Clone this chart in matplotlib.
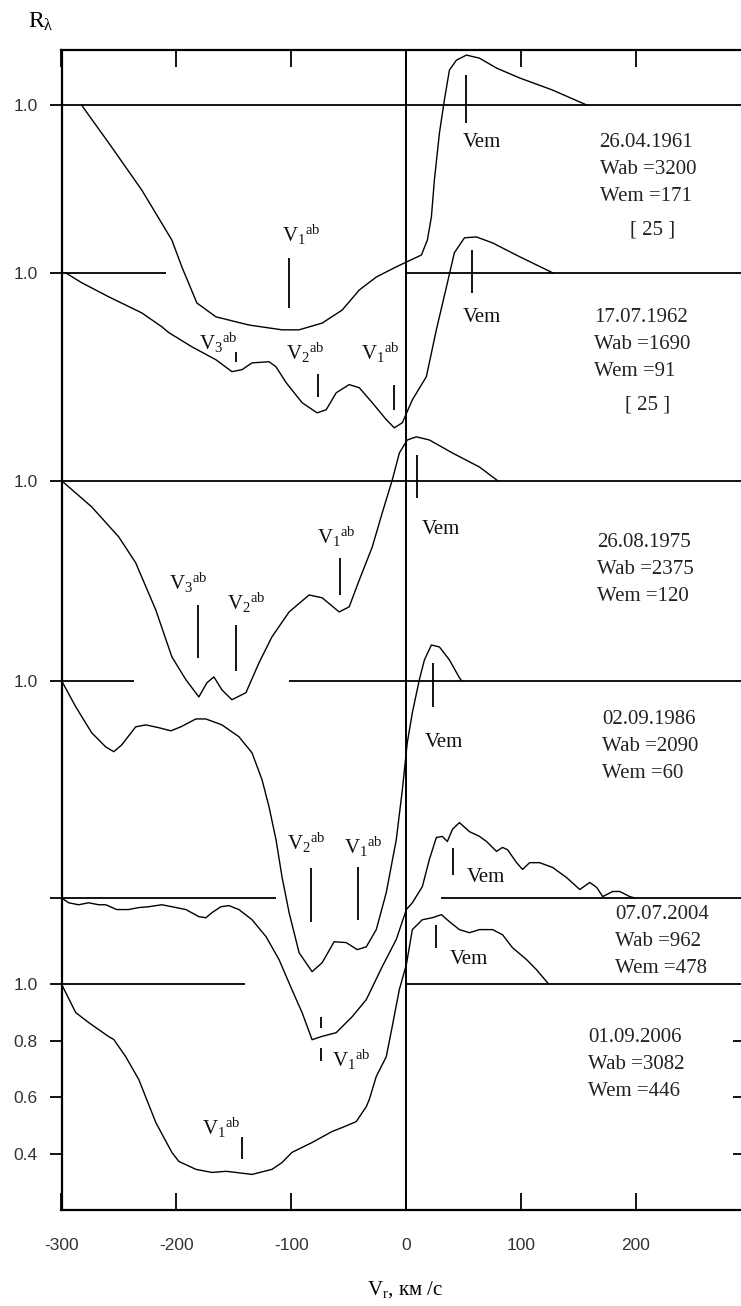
import matplotlib
matplotlib.use("Agg")
import matplotlib.pyplot as plt

plt.rcParams["font.family"] = ["Liberation Serif", "DejaVu Serif"]
plt.rcParams["mathtext.fontset"] = "custom"
plt.rcParams["mathtext.rm"] = "Liberation Serif"
plt.rcParams["mathtext.it"] = "Liberation Serif:italic"
plt.rcParams["axes.unicode_minus"] = False

# --- profiles: radial velocity (km/s) and R_lambda ---
v_1961 = [-282.5, -276.4, -258.9, -230.1, -203.9, -195.2, -182.1, -165.5, -136.7, -107.9,
          -93.1, -73.0, -55.6, -40.7, -25.9, -8.5, 0.3, 13.4, 18.6, 22.1, 24.7, 29.1,
          33.4, 37.8, 43.9, 52.6, 64.0, 78.8, 98.9, 127.7, 157.4]
r_1961 = [1.0, 0.965, 0.866, 0.699, 0.522, 0.427, 0.299, 0.250, 0.221, 0.204,
          0.204, 0.228, 0.274, 0.345, 0.391, 0.427, 0.444, 0.469, 0.522, 0.604, 0.735, 0.901,
          1.018, 1.124, 1.159, 1.177, 1.166, 1.131, 1.096, 1.053, 1.0]

v_1962 = [-296.4, -282.5, -258.9, -230.1, -212.7, -206.5, -186.5, -165.5, -151.6, -142.8,
          -134.1, -119.3, -113.2, -104.4, -90.5, -77.4, -69.5, -60.8, -49.5, -40.7, -29.4,
          -17.2, -10.2, -3.2, 5.5, 17.7, 26.4, 35.2, 42.1, 50.9, 61.3, 75.3, 98.9, 127.7]
r_1962 = [1.0, 0.965, 0.915, 0.858, 0.809, 0.788, 0.738, 0.692, 0.650, 0.657,
          0.681, 0.685, 0.667, 0.611, 0.540, 0.504, 0.515, 0.575, 0.604, 0.593, 0.540,
          0.480, 0.451, 0.469, 0.550, 0.632, 0.798, 0.950, 1.071, 1.124, 1.127, 1.106, 1.057, 1.0]

v_1975 = [-300.0, -273.7, -250.2, -235.4, -217.9, -203.9, -191.7, -180.4, -173.4, -167.3,
          -160.3, -151.6, -139.4, -128.0, -116.7, -101.8, -84.4, -73.0, -58.2, -49.5, -40.7,
          -29.4, -20.7, -12.0, -5.8, 1.1, 9.0, 20.3, 40.4, 64.0, 79.7]
r_1975 = [1.0, 0.907, 0.801, 0.709, 0.542, 0.376, 0.295, 0.234, 0.284, 0.305,
          0.259, 0.224, 0.249, 0.355, 0.447, 0.535, 0.595, 0.585, 0.535, 0.553, 0.648,
          0.765, 0.886, 1.002, 1.098, 1.144, 1.155, 1.144, 1.098, 1.048, 1.0]

v_1986 = [-300.0, -287.6, -273.7, -261.5, -254.5, -247.6, -235.4, -226.6, -215.3, -204.8,
          -196.1, -183.0, -174.3, -160.3, -145.5, -134.1, -125.4, -119.3, -113.2, -108.0,
          -101.8, -93.1, -81.8, -73.0, -62.6, -52.1, -42.5, -34.6, -25.9, -17.2, -8.5, -3.2,
          1.1, 5.5, 11.6, 16.0, 22.1, 29.1, 37.8, 46.5, 48.3]
r_1986 = [1.0, 0.907, 0.815, 0.765, 0.748, 0.772, 0.836, 0.843, 0.833, 0.822,
          0.836, 0.864, 0.864, 0.843, 0.801, 0.744, 0.649, 0.553, 0.436, 0.305,
          0.178, 0.036, -0.031, 0.001, 0.075, 0.072, 0.047, 0.057, 0.118, 0.249, 0.436, 0.613,
          0.780, 0.886, 1.003, 1.073, 1.126, 1.119, 1.073, 1.010, 1.0]

v_2004 = [-300.0, -293.8, -285.1, -276.4, -267.6, -261.5, -251.9, -241.5, -232.7, -224.0,
          -212.7, -203.9, -191.7, -180.4, -174.3, -169.0, -161.2, -154.2, -145.5, -134.1,
          -121.9, -110.6, -99.3, -90.5, -81.8, -73.9, -60.8, -46.8, -34.6, -20.7, -8.5, 0.3,
          5.5, 14.2, 20.3, 26.4, 31.7, 36.0, 40.4, 46.5, 55.2, 64.0, 70.1, 78.8, 84.0, 88.4,
          96.3, 101.5, 107.6, 116.3, 127.7, 139.9, 151.3, 160.0, 166.1, 171.3, 180.0, 186.1,
          194.8, 199.2]
r_2004 = [1.0, 0.983, 0.976, 0.983, 0.976, 0.976, 0.959, 0.959, 0.966, 0.969,
          0.976, 0.969, 0.959, 0.934, 0.930, 0.948, 0.969, 0.973, 0.959, 0.923,
          0.863, 0.782, 0.675, 0.594, 0.498, 0.509, 0.523, 0.580, 0.640, 0.757, 0.853, 0.959,
          0.983, 1.040, 1.136, 1.214, 1.218, 1.200, 1.243, 1.267, 1.235, 1.218, 1.200, 1.165,
          1.179, 1.171, 1.125, 1.101, 1.125, 1.125, 1.108, 1.072, 1.030, 1.055, 1.037, 1.005,
          1.023, 1.023, 1.005, 1.0]

v_2006 = [-300.0, -287.6, -276.4, -258.9, -254.5, -244.1, -232.7, -217.9, -203.9, -197.8,
          -183.0, -169.0, -156.8, -148.1, -134.1, -116.7, -108.0, -99.3, -81.8, -64.4, -55.6,
          -43.4, -34.6, -32.0, -25.9, -17.2, -12.0, -5.8, 0.3, 5.5, 14.2, 22.9, 30.8, 37.8,
          46.5, 55.2, 64.0, 75.3, 84.0, 92.7, 104.9, 113.6, 123.2, 124.3]
r_2006 = [1.0, 0.899, 0.864, 0.814, 0.804, 0.743, 0.662, 0.510, 0.404, 0.372,
          0.344, 0.333, 0.337, 0.333, 0.326, 0.344, 0.368, 0.404, 0.439, 0.478, 0.492,
          0.513, 0.566, 0.591, 0.673, 0.743, 0.850, 0.981, 1.069, 1.193, 1.228, 1.235, 1.246,
          1.221, 1.193, 1.182, 1.193, 1.193, 1.175, 1.129, 1.087, 1.051, 1.005, 1.0]

dates = ["26.04.1961", "17.07.1962", "26.08.1975", "02.09.1986", "07.07.2004", "01.09.2006"]
w_ab = [3200, 1690, 2375, 2090, 962, 3082]
w_em = [171, 91, 120, 60, 478, 446]
refs = ["[ 25 ]", "[ 25 ]", "", "", "", ""]

# velocity markers: (velocity, lower R, upper R)
marks_1961 = [(-101.8, 0.281, 0.458), (52.4, 0.936, 1.106)]
marks_1962 = [(-148.3, 0.685, 0.720), (-76.3, 0.561, 0.642), (-10.8, 0.515, 0.604), (57.6, 0.929, 1.081)]
marks_1975 = [(-181.0, 0.373, 0.561), (-148.3, 0.327, 0.490), (-57.6, 0.596, 0.727), (9.3, 0.939, 1.091)]
marks_1986 = [(-82.9, 0.146, 0.337), (-42.2, 0.153, 0.341), (23.3, 0.907, 1.063)]
marks_2004 = [(-73.9, 0.541, 0.580), (-73.9, 0.421, 0.470), (41.3, 1.083, 1.178)]
marks_2006 = [(-142.6, 0.379, 0.460), (26.2, 1.129, 1.211)]

# --- layout ---
XMIN, XMAX = -300, 295
YMIN, YMAX = 0.2, 4.308
offsets = [3.113, 2.519, 1.783, 1.075, 0.305, 0.0]
# gaps left in the continuum lines
gaps = [None, (-209, 0), None, (-236.5, -101.8), (-113.4, 30.5), (-140, 0)]

fig = plt.figure(figsize=(7.41, 13.06), dpi=100)
ax = fig.add_axes([61.5 / 741, 96 / 1306, (XMAX - XMIN) * 1.1484 / 741, 1160 / 1306])
ax.set_xlim(XMIN, XMAX)
ax.set_ylim(YMIN, YMAX)

profiles = [(v_1961, r_1961, marks_1961), (v_1962, r_1962, marks_1962),
            (v_1975, r_1975, marks_1975), (v_1986, r_1986, marks_1986),
            (v_2004, r_2004, marks_2004), (v_2006, r_2006, marks_2006)]

for (v, r, marks), off, gap in zip(profiles, offsets, gaps):
    y0 = 1.0 + off
    if gap is None:
        ax.hlines(y0, XMIN, XMAX, color="black", lw=1.3)
    else:
        ax.hlines(y0, XMIN, gap[0], color="black", lw=1.3)
        ax.hlines(y0, gap[1], XMAX, color="black", lw=1.3)
    ax.plot(v, [ri + off for ri in r], color="black", lw=1.0)
    for mv, lo, hi in marks:
        ax.vlines(mv, lo + off, hi + off, color="black", lw=1.3)

ax.axvline(0, color="black", lw=1.4)

# line labels
lab = dict(fontsize=15, ha="left", va="center", color="#111111")
v1 = r"$\mathrm{V}_{1}{}^{\mathrm{ab}}$"
v2 = r"$\mathrm{V}_{2}{}^{\mathrm{ab}}$"
v3 = r"$\mathrm{V}_{3}{}^{\mathrm{ab}}$"
for txt, x, y in [(v1, -107.7, 3.653), ("Vem", 49.0, 3.979),
                  (v3, -180.1, 3.271), (v2, -104.3, 3.235), (v1, -38.9, 3.235), ("Vem", 49.0, 3.359),
                  (v3, -206.2, 2.421), (v2, -155.7, 2.350), (v1, -77.3, 2.584), ("Vem", 13.3, 2.609),
                  (v2, -103.4, 1.501), (v1, -53.8, 1.487), ("Vem", 15.9, 1.855),
                  (v1, -64.2, 0.733), ("Vem", 52.5, 1.377),
                  (v1, -177.3, 0.492), ("Vem", 37.7, 1.087)]:
    ax.text(x, y, txt, **lab)

# info blocks on the right
block_pos = [(168.5, 3.979), (164.0, 3.359), (166.6, 2.563), (170.9, 1.936), (182.2, 1.246), (158.6, 0.811)]
step = 0.0956
for (x, y), d, wa, we, ref in zip(block_pos, dates, w_ab, w_em, refs):
    for k, line in enumerate([d, f"Wab ={wa}", f"Wem ={we}"]):
        ax.text(x, y - k * step, line, fontsize=15, ha="left", va="center", color="#222222")
    if ref:
        ax.text(x + 46, y - 3 * step - 0.02, ref, fontsize=15, ha="center", va="center", color="#222222")

# axes styling
for s in ax.spines.values():
    s.set_linewidth(1.6)

yticks = [1.0 + o for o in offsets] + [0.8, 0.6, 0.4]
ylabels = ["1.0", "1.0", "1.0", "1.0", "", "1.0", "0.8", "0.6", "0.4"]
ax.set_yticks(yticks)
ax.set_yticklabels(ylabels, fontfamily="Liberation Sans", fontsize=12.5, color="#333333")
ax.tick_params(axis="y", direction="out", length=9, width=1.3, pad=8)

ax.set_xticks([-300, -200, -100, 0, 100, 200])
ax.set_xticklabels(["-300", "-200", "-100", "0", "100", "200"],
                   fontfamily="Liberation Sans", fontsize=12.5, color="#333333")
ax.tick_params(axis="x", direction="in", length=12, width=1.3, pad=20, top=True)

sec = ax.secondary_yaxis("right")
sec.set_yticks([0.8, 0.6, 0.4])
sec.tick_params(direction="in", length=9, width=1.3, labelright=False)

fig.text(28 / 741, 1 - 22 / 1306, r"R$_{\mathrm{λ}}$", fontsize=17, ha="left", va="center")
fig.text(405 / 741, 1 - 1290 / 1306, r"V$_{\mathrm{r}}$, км /с", fontsize=15, ha="center", va="center")

fig.savefig("out.png", dpi=100, facecolor="white")
